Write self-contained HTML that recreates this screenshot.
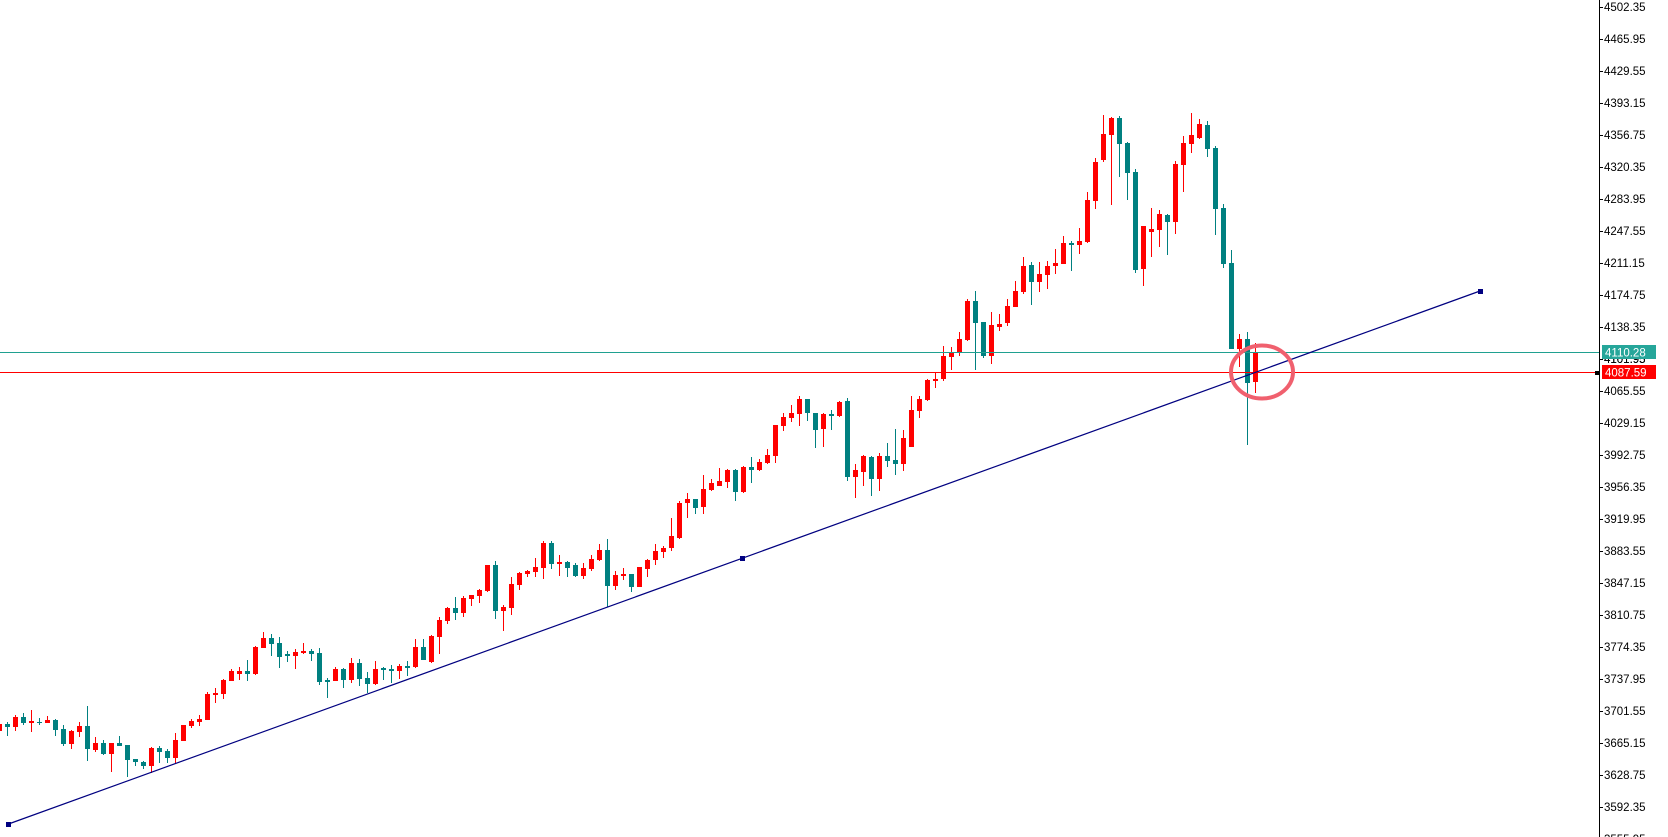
<!DOCTYPE html>
<html><head><meta charset="utf-8"><style>
html,body{margin:0;padding:0;background:#fff;width:1668px;height:837px;overflow:hidden}
svg{display:block}
text{font-family:"Liberation Sans",sans-serif;font-size:11.5px}
</style></head><body>
<svg id="s" width="1668" height="837" xmlns="http://www.w3.org/2000/svg">
<rect width="1668" height="837" fill="#fff"/>
<g id="c"></g>
<line x1="0" y1="352.5" x2="1599" y2="352.5" stroke="#20a090" stroke-width="1"/>
<line x1="0" y1="372.5" x2="1599" y2="372.5" stroke="#ff0000" stroke-width="1"/>
<line x1="8.5" y1="824" x2="1480" y2="291" stroke="#000080" stroke-width="1.2"/>
<rect x="6" y="822" width="5" height="5" fill="#000080"/>
<rect x="740" y="556" width="5" height="5" fill="#000080"/>
<rect x="1478" y="289" width="5" height="5" fill="#000080"/>
<ellipse cx="1262" cy="372" rx="31" ry="26.5" fill="none" stroke="#f0606e" stroke-width="4"/>
<g id="ax"></g>
<line x1="1599.5" y1="0" x2="1599.5" y2="837" stroke="#000" stroke-width="1"/>
<rect x="1602" y="345" width="54" height="14" fill="#26a69a"/>
<text x="1605" y="356.5" fill="#fff">4110.28</text>
<rect x="1602" y="365" width="54" height="14" fill="#ff0000"/>
<text x="1605" y="376.5" fill="#fff">4087.59</text>
<rect x="1595" y="371" width="4" height="4" fill="#000"/>
</svg>
<script>
var d=[
[1,724,731,722,733],
[0,724,727,722,736],[1,717,727,715,731],[0,717,723,713,725],[1,721,723,710,732],[0,722,723,718,725],
[1,720,723,716,723],[0,720,730,719,736],[0,729,744,725,746],[1,731,744,730,749],[1,726,732,722,737],
[0,726,749,706,761],[1,743,750,737,752],[0,743,754,740,755],[1,743,754,743,772],[0,743,746,736,746],
[0,745,760,745,777],[0,759,762,759,766],[0,762,766,761,769],[1,748,766,747,773],[0,748,752,746,763],
[0,751,758,749,763],[1,740,758,733,763],[1,725,741,725,741],[1,721,726,719,728],[1,719,722,715,726],
[1,694,720,692,720],[1,693,695,688,703],[1,680,694,679,699],[1,671,681,669,681],[1,671,674,667,680],
[0,671,674,660,681],[1,647,674,646,675],[1,638,648,632,648],[0,638,644,634,656],[0,643,657,637,668],
[0,654,656,651,662],[1,652,656,649,669],[1,651,653,643,654],[0,651,654,649,661],[0,653,682,648,685],
[0,680,682,678,698],[1,669,681,667,681],[0,669,680,668,688],[1,663,680,658,683],[0,663,679,659,686],
[0,678,684,672,693],[1,669,684,661,685],[0,668,670,667,680],[0,669,671,665,683],[1,666,671,664,679],
[0,666,668,661,676],[1,647,667,639,668],[0,647,660,639,660],[1,636,662,635,663],[1,620,637,617,654],
[1,608,621,607,624],[0,608,613,597,620],[1,598,613,596,617],[1,595,599,595,606],[1,590,596,589,603],
[1,565,591,565,592],[0,565,611,561,619],[1,607,611,605,631],[1,584,608,577,615],[1,573,585,572,590],
[1,571,574,570,577],[1,567,572,558,577],[1,543,568,541,579],[0,543,564,541,569],[1,562,564,555,576],
[0,562,568,561,577],[0,565,576,563,577],[1,568,576,563,579],[1,559,569,555,571],[1,550,560,544,561],
[0,550,586,539,607],[1,575,586,571,590],[1,574,576,568,580],[0,574,587,574,592],[1,567,587,567,587],
[1,560,569,559,577],[1,551,560,544,565],[1,548,552,546,558],[1,536,548,518,551],[1,503,538,501,539],
[1,499,503,493,518],[0,499,508,499,514],[1,489,507,475,514],[1,483,490,479,491],[1,481,486,468,486],
[1,470,482,469,488],[0,470,492,469,501],[1,467,492,466,493],[0,467,470,457,483],[1,462,470,459,471],
[1,455,463,449,464],[1,425,456,425,463],[1,417,426,413,431],[1,413,418,405,422],[1,399,414,396,426],
[0,399,413,399,421],[0,413,430,413,448],[1,414,429,413,447],[0,414,416,410,430],[1,402,416,401,417],
[0,401,477,398,481],[1,470,477,464,498],[1,456,472,455,486],[0,457,479,456,496],[1,456,479,453,491],
[0,456,461,443,467],[0,460,464,429,475],[1,438,464,430,471],[1,410,447,396,447],[1,399,411,396,418],
[1,380,400,379,401],[1,379,381,373,388],[1,356,379,346,381],[1,352,357,347,370],[1,339,353,332,356],
[1,301,340,299,341],[0,301,323,291,370],[0,322,356,322,358],[1,325,356,312,364],[1,324,327,314,331],
[1,306,323,299,326],[1,291,307,281,307],[1,266,292,257,294],[0,265,282,262,305],[1,274,282,262,292],
[1,266,275,261,289],[1,263,266,249,274],[1,243,264,236,264],[0,243,245,241,271],[1,241,245,228,254],
[1,200,242,192,243],[1,162,201,158,209],[1,134,160,115,162],[1,118,135,117,205],[0,118,144,116,177],
[0,143,173,142,200],[0,172,270,169,273],[1,226,269,226,286],[1,229,232,208,257],[1,214,230,210,247],
[0,215,222,214,255],[1,164,222,161,234],[1,143,165,136,192],[1,135,144,113,153],[1,124,138,119,139],
[0,125,149,121,157],[0,148,209,146,235],[0,208,264,204,268],[0,263,349,250,349],[1,339,349,334,367],
[0,339,383,332,445],[1,352,382,343,393]
];
var g=document.getElementById("c"),h="";
for(var i=0;i<d.length;i++){var c=d[i],x=-1+8*i,col=c[0]?"#ff0000":"#008080";
h+='<rect x="'+x+'" y="'+c[3]+'" width="1" height="'+(c[4]-c[3])+'" fill="'+col+'"/>';
h+='<rect x="'+(x-2)+'" y="'+c[1]+'" width="5" height="'+Math.max(1,c[2]-c[1])+'" fill="'+col+'"/>';}
g.innerHTML=h;
var a=document.getElementById("ax"),t="";
for(var k=0;k<27;k++){var v=(4502.35-36.4*k).toFixed(2),y=7+32*k;
t+='<line x1="1599" y1="'+(y+0.5)+'" x2="1603" y2="'+(y+0.5)+'" stroke="#000"/>';
t+='<text x="1604" y="'+(y+4)+'" fill="#000">'+v+'</text>';}
t+='<text x="1604" y="363" fill="#000">4101.95</text>';
a.innerHTML=t;
</script>
</body></html>
